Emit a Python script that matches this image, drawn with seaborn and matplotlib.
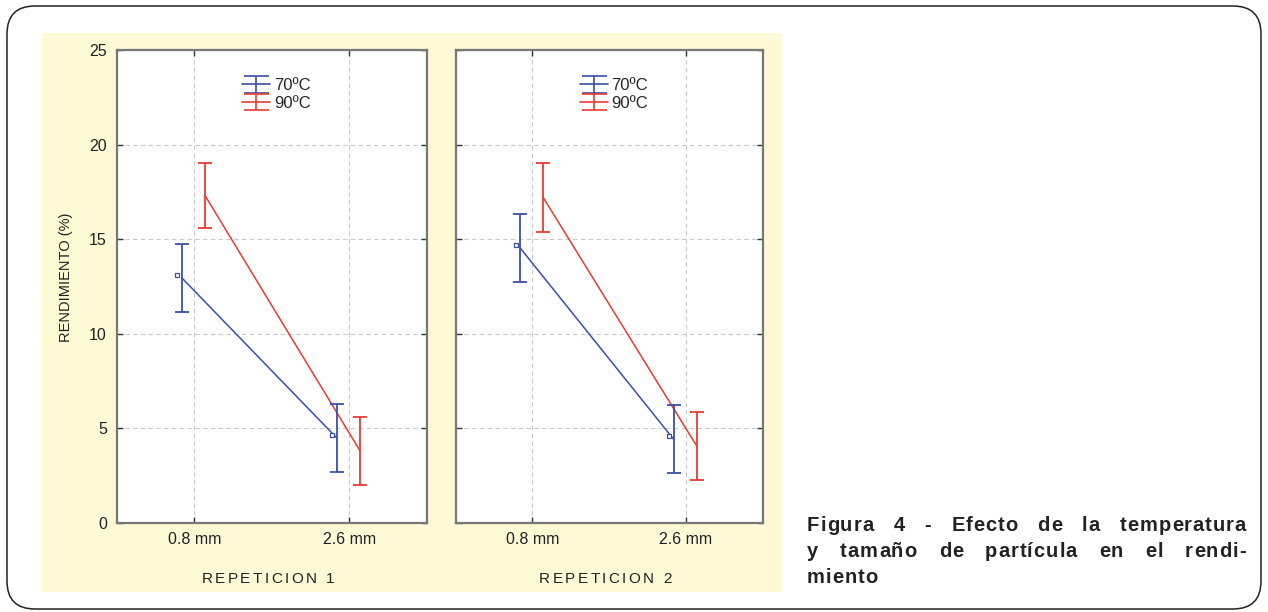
import numpy as np
import pandas as pd
import seaborn as sns
import matplotlib
matplotlib.use("Agg")
import matplotlib.pyplot as plt
from matplotlib.patches import FancyBboxPatch, Rectangle
from matplotlib.transforms import IdentityTransform
from matplotlib.font_manager import FontProperties, findfont, get_font

# ---------------- data ----------------
categories = ["0.8 mm", "2.6 mm"]
temps = ["70ºC", "90ºC"]
panels = ["REPETICION 1", "REPETICION 2"]

rep1_70_mean = [12.95, 4.48]
rep1_70_err = [1.8, 1.8]
rep1_90_mean = [17.3, 3.8]
rep1_90_err = [1.7, 1.8]
rep2_70_mean = [14.53, 4.41]
rep2_70_err = [1.8, 1.8]
rep2_90_mean = [17.2, 4.06]
rep2_90_err = [1.8, 1.8]

yticks = [0, 5, 10, 15, 20, 25]
ylabel = "RENDIMIENTO (%)"
caption_lines = [
    "Figura 4 - Efecto de la temperatura",
    "y tamaño de partícula en el rendi-",
    "miento",
]

# ---------------- style ----------------
sns.set_theme(style="white")
plt.rcParams["font.family"] = ["Liberation Sans", "DejaVu Sans"]

W, H = 1268, 612
fig = plt.figure(figsize=(W / 100, H / 100), dpi=100, facecolor="white")

colors = {"70ºC": "#3b4fa8", "90ºC": "#ec3a30"}
dodge = {"70ºC": -0.08, "90ºC": 0.07}
txt_color = "#222222"

# yellow panel
fig.patches.append(Rectangle((42 / W, 1 - 592 / H), 740 / W, 559 / H,
                             transform=fig.transFigure, facecolor="#fff9d6",
                             edgecolor="none", zorder=-5))
# rounded border
fig.patches.append(FancyBboxPatch((7, 3), 1254, 603,
                                  boxstyle="round,pad=0,rounding_size=28",
                                  transform=IdentityTransform(), facecolor="none",
                                  edgecolor="#222222", linewidth=1.1, zorder=-5))


def make_font(size, weight):
    fp = FontProperties(family="Liberation Sans", weight=weight, size=size)
    ft = get_font(findfont(fp))
    ft.set_size(size, 100)
    return fp, ft


def adv(ft, c):
    return ft.load_char(ord(c)).linearHoriAdvance / 65536.0


def word_width(ft, s, tracking):
    return sum(adv(ft, c) for c in s) + tracking * (len(s) - 1)


def draw_chars(s, x, base_y, fp, ft, tracking):
    for c in s:
        if c != " ":
            fig.text(x / W, 1 - base_y / H, c, fontproperties=fp, color=txt_color,
                     ha="left", va="baseline")
        x += adv(ft, c) + tracking
    return x


rows = []
for pi, (m70, e70, m90, e90) in enumerate([
        (rep1_70_mean, rep1_70_err, rep1_90_mean, rep1_90_err),
        (rep2_70_mean, rep2_70_err, rep2_90_mean, rep2_90_err)]):
    for t, m, e in [(temps[0], m70, e70), (temps[1], m90, e90)]:
        for ci, cat in enumerate(categories):
            rows.append(dict(panel=pi, temp=t, cat=cat, xpos=ci + dodge[t],
                             mean=m[ci], err=e[ci]))
df = pd.DataFrame(rows)

lab_fp, lab_ft = make_font(11, "normal")
ax_pos = [(116.7, 310), (455.7, 307)]
top_px, bot_px = 50, 522.7
for pi in range(2):
    x0, w = ax_pos[pi]
    ax = fig.add_axes([x0 / W, 1 - bot_px / H, w / W, (bot_px - top_px) / H])
    ax.set_facecolor("white")
    sub = df[df.panel == pi]
    sns.lineplot(data=sub, x="xpos", y="mean", hue="temp", palette=colors,
                 legend=False, ax=ax, sort=False, linewidth=1.1, zorder=3)
    handles = []
    for t in temps:
        s = sub[sub.temp == t]
        ax.errorbar(s.xpos, s["mean"], yerr=s.err, fmt="none", ecolor=colors[t],
                    elinewidth=1.3, capsize=5, capthick=1.3, zorder=3)
        if t == temps[0]:
            ax.plot(s.xpos - 0.03, s["mean"] + 0.15, ls="none", marker="s",
                    ms=3, mfc="white", mec=colors[t], mew=0.9, zorder=4)
        h = ax.errorbar([np.nan], [np.nan], yerr=[1], fmt="-", color=colors[t],
                        lw=1.2, capsize=9, capthick=1.2, label=t)
        handles.append(h)
    ax.set_xlim(-0.5, 1.5)
    ax.set_ylim(0, 25)
    ax.set_xticks([0, 1])
    ax.set_xticklabels(categories)
    ax.set_yticks(yticks)
    if pi == 0:
        ax.set_yticklabels([str(v) for v in yticks])
        ax.set_ylabel(ylabel, fontsize=10.5, color=txt_color)
        ax.yaxis.set_label_coords(-0.142, 0.52)
    else:
        ax.set_yticklabels([])
        ax.set_ylabel("")
    ax.set_xlabel("")
    ax.grid(True, color="#c9c9c9", linestyle=(0, (4, 3)), linewidth=0.8)
    ax.set_axisbelow(True)
    for sp in ax.spines.values():
        sp.set_color("#777777")
        sp.set_linewidth(1.6)
        sp.set_visible(True)
    ax.tick_params(axis="both", which="both", direction="in", length=4,
                   width=1, color="#333333", labelsize=11.5, labelcolor=txt_color,
                   top=True, right=True, left=True, bottom=True)
    ax.tick_params(axis="x", pad=7)
    ax.tick_params(axis="y", pad=7)
    ax.legend(handles=handles, loc="upper center", bbox_to_anchor=(0.515, 0.965),
              frameon=False, fontsize=12, handlelength=1.7, handletextpad=0.2,
              labelspacing=0.15, borderpad=0.2)
    # letter-spaced panel label
    trk = 2.4
    wlab = word_width(lab_ft, panels[pi], trk)
    cx = x0 + w / 2 - 4
    draw_chars(panels[pi], cx - wlab / 2, 583, lab_fp, lab_ft, trk)

# caption: bold, slightly letter-spaced, justified lines
cap_fp, cap_ft = make_font(14.5, "bold")
tracking = 1.0
x_left, x_right = 807, 1246
baselines = [531, 557, 583]
for li, line in enumerate(caption_lines):
    words = line.split(" ")
    wwid = [word_width(cap_ft, wd, tracking) for wd in words]
    if li < 2 and len(words) > 1:
        gap = (x_right - x_left - sum(wwid)) / (len(words) - 1)
    else:
        gap = adv(cap_ft, " ") + tracking
    x = x_left
    for wd, wdt in zip(words, wwid):
        draw_chars(wd, x, baselines[li], cap_fp, cap_ft, tracking)
        x += wdt + gap

fig.savefig("out.png", dpi=100, facecolor="white")
